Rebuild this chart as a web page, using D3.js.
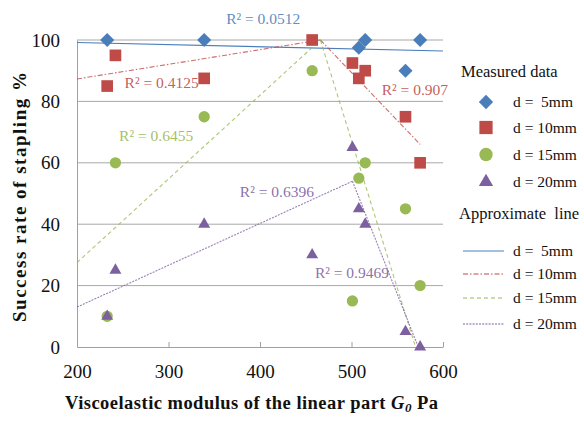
<!DOCTYPE html>
<html>
<head>
<meta charset="utf-8">
<script src="https://cdn.jsdelivr.net/npm/d3@7"></script>
<style>
  body { margin: 0; background: #fff; }
  svg text { font-family: "Liberation Serif", "Times New Roman", serif; white-space: pre; }
</style>
</head>
<body>
<div id="wrapper"></div>
<script>
// measured points [G0, success %]
const d5 = [[233, 100], [339, 100], [508, 97.5], [515, 100], [559, 90], [575, 100]];
const d10 = [[233, 85], [242, 95], [339, 87.5], [457, 100], [501, 92.5], [508, 87.5], [515, 90], [559, 75], [575, 60]];
const d15 = [[233, 10], [242, 60], [339, 75], [457, 90], [501, 15], [508, 55], [515, 60], [559, 45], [575, 20]];
const d20 = [[233, 10], [242, 25], [339, 40], [457, 30], [501, 65], [508, 45], [515, 40], [559, 5], [575, 0]];

// approximate lines (end points)
const fit5 = [[200, 99.2], [600, 96.4]];
const fit10 = [[[200, 87.3], [466, 100]], [[466, 100], [575, 66]]];
const fit15 = [[[200, 27.5], [466, 100]], [[466, 100], [570, 0]]];
const fit20 = [[[200, 13], [501, 54]], [[501, 54], [573, 0]]];

// R² labels, anchored at their left end
const r2_labels = [
    {x: 363, y: 107, text: "R² = 0.0512", series: 0},
    {x: 252, y: 86, text: "R² = 0.4125", series: 1},
    {x: 533, y: 83.7, text: "R² = 0.907", series: 1},
    {x: 246, y: 68.7, text: "R² = 0.6455", series: 2},
    {x: 378, y: 50.5, text: "R² = 0.6396", series: 3},
    {x: 460, y: 24.1, text: "R² = 0.9469", series: 3}
];

const x_ticks = [200, 300, 400, 500, 600];
const y_ticks = [0, 20, 40, 60, 80, 100];
const series_names = ["d =  5mm", "d = 10mm", "d = 15mm", "d = 20mm"];
const colors = ["#4a7ebb", "#be4b48", "#98b954", "#7d60a0"];

let dimensions = {
    width: 584,
    height: 422,
    margin: {top: 40, left: 77}
};
dimensions.bounded_width = 366;
dimensions.bounded_height = 307;

const wrapper = d3.select("#wrapper")
    .append("svg")
    .attr("width", dimensions.width)
    .attr("height", dimensions.height);

const bounds = wrapper.append("g")
    .attr("transform", `translate(${dimensions.margin.left},${dimensions.margin.top})`);

const x_scale = d3.scaleLinear()
    .domain([200, 600])
    .range([0, dimensions.bounded_width]);
const y_scale = d3.scaleLinear()
    .domain([0, 100])
    .range([dimensions.bounded_height, 0]);

// grid
bounds.append("g")
    .selectAll("line")
    .data(y_ticks.filter(d => d > 0))
    .join("line")
    .attr("x1", 0)
    .attr("x2", dimensions.bounded_width)
    .attr("y1", d => y_scale(d))
    .attr("y2", d => y_scale(d))
    .attr("stroke", "#a8a8a8")
    .attr("stroke-width", 1);

// axes
const x_axis = bounds.append("g")
    .attr("transform", `translate(0,${dimensions.bounded_height})`)
    .call(d3.axisBottom(x_scale).tickValues(x_ticks).tickSize(-5).tickPadding(18).tickSizeOuter(0));
x_axis.selectAll("text").style("font-size", "19px").attr("fill", "#111");

const y_axis = bounds.append("g")
    .call(d3.axisLeft(y_scale).tickValues(y_ticks).tickSize(0).tickPadding(17));
y_axis.selectAll("text").style("font-size", "19px").attr("fill", "#111");

wrapper.selectAll(".domain").attr("stroke", "#a0a0a0");
wrapper.selectAll(".tick line").attr("stroke", "#a0a0a0");

// trend lines
const line_gen = d3.line()
    .x(d => x_scale(d[0]))
    .y(d => y_scale(d[1]));
const dashes = [null, "5,2,1.5,2", "4,3", "2,1.2"];
const fits = [[fit5], fit10, fit15, fit20];
fits.forEach((segs, i) => {
    bounds.append("g")
        .selectAll("path")
        .data(segs)
        .join("path")
        .attr("d", line_gen)
        .attr("fill", "none")
        .attr("stroke", colors[i])
        .attr("stroke-opacity", i == 0 ? 1 : 0.8)
        .attr("stroke-width", 1.1)
        .attr("stroke-dasharray", dashes[i]);
});

// markers
const symbols = [
    d3.symbol(d3.symbolSquare, 100),
    d3.symbol(d3.symbolSquare, 136),
    d3.symbol(d3.symbolCircle, 100),
    d3.symbol(d3.symbolTriangle, 62)
];
const rotations = [45, 0, 0, 0];
[d5, d10, d15, d20].forEach((data, i) => {
    bounds.append("g")
        .selectAll("path")
        .data(data)
        .join("path")
        .attr("d", symbols[i])
        .attr("transform", d => `translate(${x_scale(d[0])},${y_scale(d[1])}) rotate(${rotations[i]})`)
        .attr("fill", colors[i]);
});

// R² labels
bounds.append("g")
    .selectAll("text")
    .data(r2_labels)
    .join("text")
    .attr("x", d => x_scale(d.x))
    .attr("y", d => y_scale(d.y))
    .attr("dy", "0.33em")
    .attr("fill", d => colors[d.series])
    .attr("fill-opacity", 0.9)
    .style("font-size", "15.5px")
    .text(d => d.text);

// axis titles
const x_label = wrapper.append("text")
    .attr("x", 65)
    .attr("y", 409)
    .attr("textLength", 373)
    .attr("lengthAdjust", "spacing")
    .style("font-size", "18.5px")
    .style("font-weight", "bold")
    .attr("fill", "#111");
x_label.append("tspan").text("Viscoelastic modulus of the linear part ");
x_label.append("tspan").style("font-style", "italic").text("G");
x_label.append("tspan").style("font-style", "italic").style("font-size", "13px").attr("dy", 3).text("0");
x_label.append("tspan").attr("dy", -3).text(" Pa");

wrapper.append("text")
    .attr("transform", "translate(26,197) rotate(-90)")
    .attr("text-anchor", "middle")
    .attr("textLength", 250)
    .attr("lengthAdjust", "spacing")
    .style("font-size", "19px")
    .style("font-weight", "bold")
    .attr("fill", "#111")
    .text("Success rate of stapling %");

// legend
const legend = wrapper.append("g");
legend.append("text")
    .attr("x", 461)
    .attr("y", 77)
    .style("font-size", "16.5px")
    .attr("fill", "#111")
    .text("Measured data");
const legend_symbols = [
    d3.symbol(d3.symbolSquare, 102),
    d3.symbol(d3.symbolSquare, 175),
    d3.symbol(d3.symbolCircle, 140),
    d3.symbol(d3.symbolTriangle, 88)
];
const legend_rows = [102, 127.5, 154.5, 182];
series_names.forEach((name, i) => {
    legend.append("path")
        .attr("d", legend_symbols[i])
        .attr("transform", `translate(486,${legend_rows[i]}) rotate(${rotations[i]})`)
        .attr("fill", colors[i]);
    legend.append("text")
        .attr("x", 513)
        .attr("y", legend_rows[i])
        .attr("dy", "0.33em")
        .style("font-size", "15.5px")
        .attr("fill", "#111")
        .text(name);
});

legend.append("text")
    .attr("x", 459)
    .attr("y", 219)
    .style("font-size", "16.5px")
    .attr("fill", "#111")
    .text("Approximate  line");
const line_rows = [251, 274, 298, 324];
series_names.forEach((name, i) => {
    legend.append("line")
        .attr("x1", 463)
        .attr("x2", 504)
        .attr("y1", line_rows[i])
        .attr("y2", line_rows[i])
        .attr("stroke", colors[i])
        .attr("stroke-width", 1.2)
        .attr("stroke-dasharray", dashes[i]);
    legend.append("text")
        .attr("x", 513)
        .attr("y", line_rows[i])
        .attr("dy", "0.33em")
        .style("font-size", "15.5px")
        .attr("fill", "#111")
        .text(name);
});
</script>
</body>
</html>
